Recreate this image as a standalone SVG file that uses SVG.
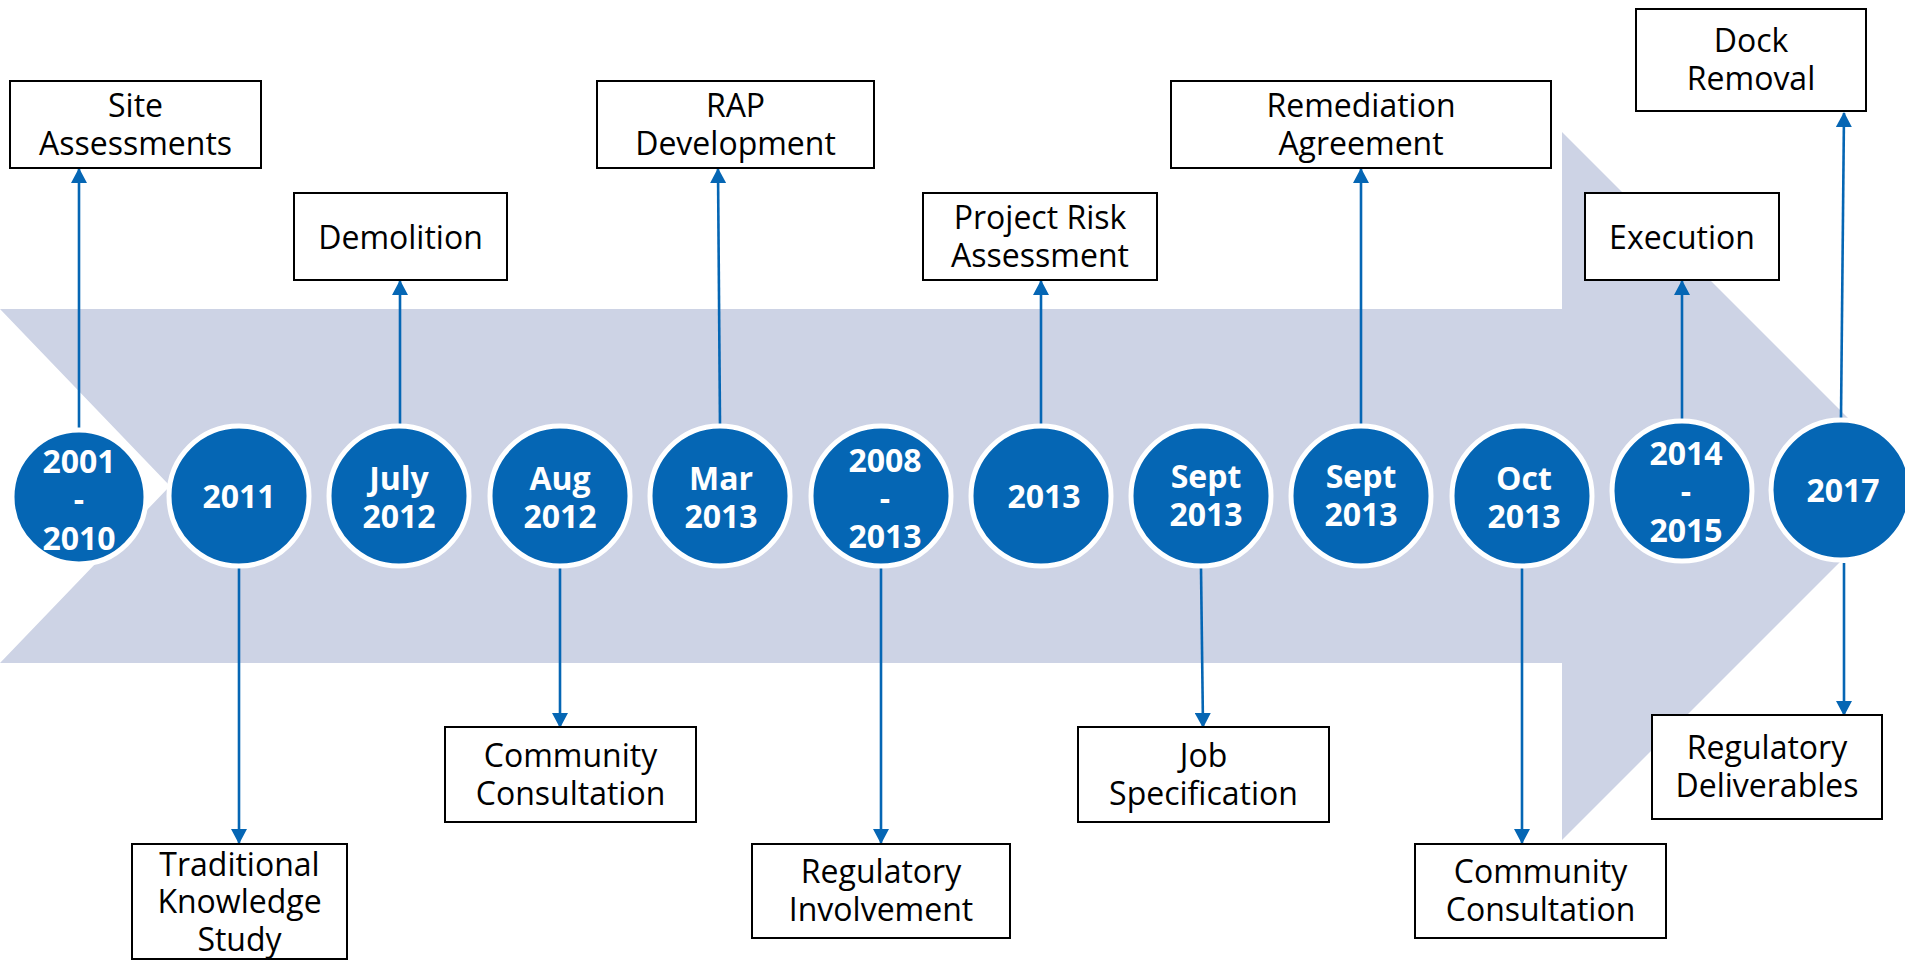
<svg xmlns="http://www.w3.org/2000/svg" width="1905" height="960" viewBox="0 0 1905 960">
  <style>
    .box { fill: #ffffff; stroke: #000000; stroke-width: 2; }
    .lbl { font-family: "Open Sans", "Noto Sans", "Liberation Sans", sans-serif; font-size: 32px; fill: #000000; text-anchor: middle; }
    .dot { fill: #0566b4; stroke: #ffffff; stroke-width: 5; }
    .yr { font-family: "Open Sans", "Noto Sans", "Liberation Sans", sans-serif; font-size: 32px; font-weight: bold; fill: #ffffff; text-anchor: middle; }
    .link { stroke: #0566b4; stroke-width: 2.6; fill: none; marker-end: url(#tip); }
  </style>
  <defs>
    <marker id="tip" markerUnits="userSpaceOnUse" markerWidth="15" markerHeight="16" viewBox="0 0 15 16" refX="14" refY="8" orient="auto">
      <path d="M0,0 L15,8 L0,16 Z" fill="#0566b4"/>
    </marker>
  </defs>
  <rect width="1905" height="960" fill="#ffffff"/>

  <!-- background chevron arrow -->
  <polygon id="band" points="0,309 1562,309 1562,132 1916,486 1562,840 1562,663 0,663 170,486" fill="#cdd3e5"/>

  <!-- connectors -->
  <g id="connectors">
    <line class="link" x1="79" y1="430" x2="79" y2="169"/>
    <line class="link" x1="239" y1="568" x2="239" y2="843"/>
    <line class="link" x1="400" y1="425" x2="400" y2="281"/>
    <line class="link" x1="560" y1="568" x2="560" y2="727"/>
    <line class="link" x1="720" y1="425" x2="718" y2="169"/>
    <line class="link" x1="881" y1="568" x2="881" y2="843"/>
    <line class="link" x1="1041" y1="425" x2="1041" y2="281"/>
    <line class="link" x1="1201" y1="568" x2="1203" y2="727"/>
    <line class="link" x1="1361" y1="425" x2="1361" y2="169"/>
    <line class="link" x1="1522" y1="568" x2="1522" y2="843"/>
    <line class="link" x1="1682" y1="420" x2="1682" y2="281"/>
    <line class="link" x1="1841" y1="418" x2="1844" y2="113"/>
    <line class="link" x1="1844" y1="563" x2="1844" y2="715"/>
  </g>

  <!-- timeline dates -->
  <g id="d2001"><circle class="dot" cx="79" cy="497" r="67"/><text class="yr" x="79"><tspan x="79" y="473">2001</tspan><tspan x="79" y="511">-</tspan><tspan x="79" y="550">2010</tspan></text></g>
  <g id="d2011"><circle class="dot" cx="239" cy="496" r="70"/><text class="yr" x="239" y="508">2011</text></g>
  <g id="dJul2012"><circle class="dot" cx="399" cy="496" r="70"/><text class="yr"><tspan x="399" y="490">July</tspan><tspan x="399" y="528">2012</tspan></text></g>
  <g id="dAug2012"><circle class="dot" cx="560" cy="496" r="70"/><text class="yr"><tspan x="560" y="490">Aug</tspan><tspan x="560" y="528">2012</tspan></text></g>
  <g id="dMar2013"><circle class="dot" cx="720" cy="496" r="70"/><text class="yr"><tspan x="721" y="490">Mar</tspan><tspan x="721" y="528">2013</tspan></text></g>
  <g id="d2008"><circle class="dot" cx="881" cy="496" r="70"/><text class="yr"><tspan x="885" y="472">2008</tspan><tspan x="885" y="510">-</tspan><tspan x="885" y="548">2013</tspan></text></g>
  <g id="d2013"><circle class="dot" cx="1041" cy="496" r="70"/><text class="yr" x="1044" y="508">2013</text></g>
  <g id="dSep2013a"><circle class="dot" cx="1201" cy="496" r="70"/><text class="yr"><tspan x="1206" y="488">Sept</tspan><tspan x="1206" y="526">2013</tspan></text></g>
  <g id="dSep2013b"><circle class="dot" cx="1361" cy="496" r="70"/><text class="yr"><tspan x="1361" y="488">Sept</tspan><tspan x="1361" y="526">2013</tspan></text></g>
  <g id="dOct2013"><circle class="dot" cx="1522" cy="496" r="70"/><text class="yr"><tspan x="1524" y="490">Oct</tspan><tspan x="1524" y="528">2013</tspan></text></g>
  <g id="d2014"><circle class="dot" cx="1682" cy="491" r="70"/><text class="yr"><tspan x="1686" y="465">2014</tspan><tspan x="1686" y="503">-</tspan><tspan x="1686" y="542">2015</tspan></text></g>
  <g id="d2017"><circle class="dot" cx="1841" cy="490" r="70"/><text class="yr" x="1843" y="502">2017</text></g>

  <!-- event boxes above the band -->
  <g id="siteAssessments"><rect class="box" x="10" y="81" width="251" height="87"/><text class="lbl"><tspan x="135.5" y="117">Site</tspan><tspan x="135.5" y="155">Assessments</tspan></text></g>
  <g id="demolition"><rect class="box" x="294" y="193" width="213" height="87"/><text class="lbl" x="400.5" y="249">Demolition</text></g>
  <g id="rapDevelopment"><rect class="box" x="597" y="81" width="277" height="87"/><text class="lbl"><tspan x="735.5" y="117">RAP</tspan><tspan x="735.5" y="155">Development</tspan></text></g>
  <g id="projectRisk"><rect class="box" x="923" y="193" width="234" height="87"/><text class="lbl"><tspan x="1040" y="229">Project Risk</tspan><tspan x="1040" y="267">Assessment</tspan></text></g>
  <g id="remediationAgreement"><rect class="box" x="1171" y="81" width="380" height="87"/><text class="lbl"><tspan x="1361" y="117">Remediation</tspan><tspan x="1361" y="155">Agreement</tspan></text></g>
  <g id="execution"><rect class="box" x="1585" y="193" width="194" height="87"/><text class="lbl" x="1682" y="249">Execution</text></g>
  <g id="dockRemoval"><rect class="box" x="1636" y="9" width="230" height="102"/><text class="lbl"><tspan x="1751" y="52">Dock</tspan><tspan x="1751" y="90">Removal</tspan></text></g>

  <!-- event boxes below the band -->
  <g id="traditionalKnowledge"><rect class="box" x="132" y="844" width="215" height="115"/><text class="lbl"><tspan x="239.5" y="876">Traditional</tspan><tspan x="239.5" y="913">Knowledge</tspan><tspan x="239.5" y="951">Study</tspan></text></g>
  <g id="communityConsultation1"><rect class="box" x="445" y="727" width="251" height="95"/><text class="lbl"><tspan x="570.5" y="767">Community</tspan><tspan x="570.5" y="805">Consultation</tspan></text></g>
  <g id="regulatoryInvolvement"><rect class="box" x="752" y="844" width="258" height="94"/><text class="lbl"><tspan x="881" y="883">Regulatory</tspan><tspan x="881" y="921">Involvement</tspan></text></g>
  <g id="jobSpecification"><rect class="box" x="1078" y="727" width="251" height="95"/><text class="lbl"><tspan x="1203.5" y="767">Job</tspan><tspan x="1203.5" y="805">Specification</tspan></text></g>
  <g id="communityConsultation2"><rect class="box" x="1415" y="844" width="251" height="94"/><text class="lbl"><tspan x="1540.5" y="883">Community</tspan><tspan x="1540.5" y="921">Consultation</tspan></text></g>
  <g id="regulatoryDeliverables"><rect class="box" x="1652" y="715" width="230" height="104"/><text class="lbl"><tspan x="1767" y="759">Regulatory</tspan><tspan x="1767" y="797">Deliverables</tspan></text></g>
</svg>
